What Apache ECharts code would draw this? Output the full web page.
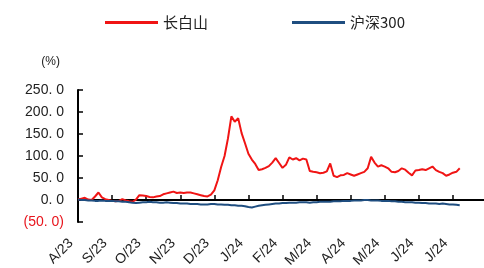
<!DOCTYPE html>
<html>
<head>
<meta charset="utf-8">
<script src="https://cdn.jsdelivr.net/npm/echarts@6/dist/echarts.min.js"></script>
<style>
  html, body { margin: 0; padding: 0; background: #fff; }
  #main { width: 484px; height: 268px; }
</style>
</head>
<body>
<div id="main"></div>
<script>
// month tick labels, 10 samples per month
var monthLabels = ['A/23', 'S/23', 'O/23', 'N/23', 'D/23', 'J/24', 'F/24', 'M/24', 'A/24', 'M/24', 'J/24', 'J/24'];
var ptsPerMonth = 10;

// 长白山 cumulative return (%)
var changbaishan = [
  1, 3, 5, 1, 0, 8, 17, 6, 2, 0,
  -2, -3, -2, 2, -1, -3, -4, 1, 11, 10,
  9, 7, 6, 8, 9, 13, 15, 17, 19, 16,
  17, 16, 17, 17, 15, 13, 11, 9, 8, 12,
  22, 45, 75, 100, 140, 190, 178, 186, 152, 129,
  105, 92, 82, 68, 70, 73, 77, 85, 95, 84,
  73, 80, 97, 92, 95, 90, 94, 92, 66, 64,
  63, 61, 62, 65, 83, 55, 52, 56, 57, 61,
  58, 55, 58, 61, 64, 72, 98, 85, 76, 79,
  76, 72, 64, 63, 66, 72, 69, 62, 56, 67,
  68, 70, 68, 72, 76, 68, 64, 61, 55, 58,
  62, 64, 72
];

// 沪深300 cumulative return (%)
var hs300 = [
  1, 0, 0, -1, -1, -2, -2, -1, -2, -2,
  -2, -3, -3, -4, -4, -5, -6, -7, -6, -5,
  -5, -4, -5, -5, -6, -6, -5, -6, -7, -7,
  -8, -8, -8, -9, -9, -9, -10, -10, -10, -9,
  -9, -10, -10, -11, -11, -12, -12, -13, -13, -14,
  -16, -17, -15, -13, -12, -11, -10, -9, -8, -8,
  -7, -7, -6, -6, -6, -5, -5, -5, -6, -5,
  -5, -4, -4, -4, -4, -3, -3, -3, -2, -2,
  -2, -1, -1, -1, 0, 0, -1, -1, -1, -2,
  -2, -2, -3, -3, -4, -4, -5, -5, -5, -6,
  -6, -7, -7, -8, -8, -8, -9, -8, -9, -10,
  -10, -11, -12
];

var categories = [];
for (var i = 0; i <= monthLabels.length * ptsPerMonth; i++) categories.push(String(i));

var myChart = echarts.init(document.getElementById('main'));
var option = {
  animation: false,
  textStyle: { fontFamily: 'Liberation Sans, Noto Sans CJK SC, sans-serif' },
  legend: {
    left: 100,
    top: 10,
    itemWidth: 53,
    itemHeight: 3,
    itemGap: 84,
    icon: 'rect',
    textStyle: { fontSize: 15, color: '#222', fontFamily: 'Noto Sans CJK SC, sans-serif' },
    data: ['长白山', '沪深300']
  },
  grid: {
    left: 78,
    top: 90,
    width: 409,
    height: 132,
    containLabel: false,
    outerBoundsMode: 'none'
  },
  xAxis: {
    type: 'category',
    boundaryGap: false,
    data: categories,
    axisLine: { lineStyle: { color: '#000', width: 2 } },
    axisTick: { inside: true, length: 5, interval: ptsPerMonth - 1, lineStyle: { color: '#000', width: 1.5 } },
    axisLabel: {
      interval: ptsPerMonth - 1,
      hideOverlap: false,
      rotate: 45,
      margin: 12,
      padding: [0, 10, 0, 0],
      fontSize: 14,
      color: '#222',
      formatter: function (val, idx) { return monthLabels[Math.round(idx / ptsPerMonth)] || ''; }
    },
    splitLine: { show: false }
  },
  yAxis: {
    type: 'value',
    min: -50,
    max: 250,
    interval: 50,
    name: '(%)',
    nameLocation: 'end',
    nameGap: 22,
    nameTextStyle: { align: 'right', padding: [0, 18, 0, 0], fontSize: 12, color: '#222' },
    axisLine: { show: true, lineStyle: { color: '#000', width: 2 } },
    axisTick: { show: true, inside: true, length: 5, lineStyle: { color: '#000', width: 1.5 } },
    axisLabel: {
      margin: 14,
      fontSize: 14,
      color: '#222',
      formatter: function (v) {
        var s = Math.abs(v).toFixed(1).replace('.', '. ');
        return v < 0 ? '{neg|(' + s + ')}' : s;
      },
      rich: { neg: { color: '#e8141c', fontSize: 14 } }
    },
    splitLine: { show: false }
  },
  series: [
    {
      name: '长白山',
      type: 'line',
      data: changbaishan,
      showSymbol: false,
      symbol: 'none',
      lineStyle: { color: '#f01414', width: 2 },
      itemStyle: { color: '#f01414' }
    },
    {
      name: '沪深300',
      type: 'line',
      data: hs300,
      showSymbol: false,
      symbol: 'none',
      lineStyle: { color: '#1f4e80', width: 2 },
      itemStyle: { color: '#1f4e80' }
    }
  ]
};
myChart.setOption(option);
</script>
</body>
</html>
